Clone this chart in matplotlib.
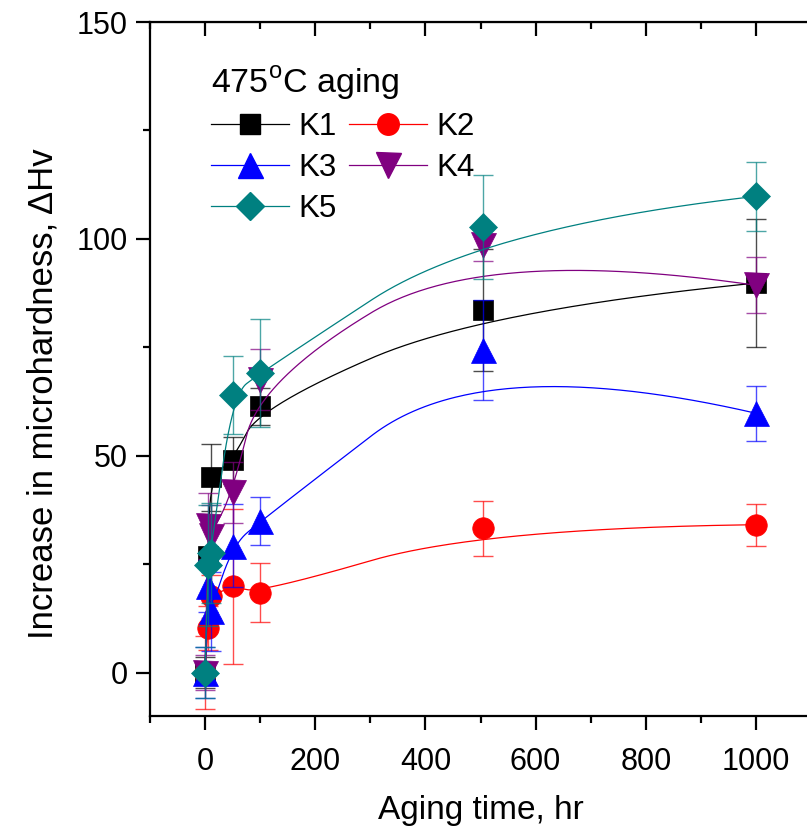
import numpy as np
import matplotlib
matplotlib.use("Agg")
import matplotlib.pyplot as plt
from matplotlib.lines import Line2D
from matplotlib.ticker import MultipleLocator

plt.rcParams['font.family'] = ['Liberation Sans', 'DejaVu Sans']
plt.rcParams['mathtext.fontset'] = 'custom'
plt.rcParams['mathtext.rm'] = 'Liberation Sans'

# aging time (hr) and hardness increase for each alloy
time = [0, 5, 10, 50, 100, 504, 1000]
k1 = [0, 27, 45, 49, 61.4, 83.6, 89.8]
k1_err = [3.5, 9, 7.7, 5.4, 4.3, 14, 14.7]
k2 = [0, 10.3, 17.6, 19.9, 18.4, 33.3, 34.1]
k2_err = [8.5, 5, 5, 17.8, 6.8, 6.3, 4.8]
k3 = [0, 19.9, 14.1, 29.3, 34.9, 74.3, 59.8]
k3_err = [5.8, 6, 9, 9.5, 5.5, 11.5, 6.3]
k4 = [0, 33.8, 31.6, 41.6, 67.5, 98.5, 89.3]
k4_err = [4, 7.5, 7, 7, 7, 3.5, 6.5]
k5 = [0, 24.7, 27.6, 64.1, 69.1, 102.7, 109.8]
k5_err = [5.8, 14, 11.5, 9, 12.5, 12, 8]

names = ['K1', 'K2', 'K3', 'K4', 'K5']
colors = ['black', '#ff0000', '#0000ff', '#800080', '#008080']
markers = ['s', 'o', '^', 'v', 'D']
msizes = [15, 15.5, 18, 18, 14]


def bspline(xs, ys, n=500, k=2):
    # clamped uniform B-spline with the data points as control points
    P = np.column_stack([xs, ys]).astype(float)
    m = len(P)
    knots = np.concatenate([np.zeros(k), np.linspace(0, 1, m - k + 1), np.ones(k)])
    t = np.linspace(0, 1 - 1e-9, n)
    B = np.zeros((n, len(knots) - 1))
    for i in range(len(knots) - 1):
        B[:, i] = (knots[i] <= t) & (t < knots[i + 1])
    for d in range(1, k + 1):
        Bn = np.zeros((n, len(knots) - 1 - d))
        for i in range(len(knots) - 1 - d):
            a = knots[i + d] - knots[i]
            b = knots[i + d + 1] - knots[i + 1]
            left = (t - knots[i]) / a * B[:, i] if a > 0 else 0
            right = (knots[i + d + 1] - t) / b * B[:, i + 1] if b > 0 else 0
            Bn[:, i] = left + right
        B = Bn
    C = B @ P
    return C[:, 0], C[:, 1]


fig = plt.figure(figsize=(8.07, 8.31), dpi=100)
ax = fig.add_axes([150 / 807, 115 / 831, 661 / 807, 694 / 831])

series = [(k1, k1_err), (k2, k2_err), (k3, k3_err), (k4, k4_err), (k5, k5_err)]
handles = []
for (vals, errs), name, c, mk, ms in zip(series, names, colors, markers, msizes):
    cx, cy = bspline(time, vals)
    ax.plot(cx, cy, color=c, lw=0.9)
    ax.errorbar(time, vals, yerr=errs, fmt='none', ecolor=c, elinewidth=1.0,
                capsize=7, capthick=1.0, alpha=0.7)
    ax.plot(time, vals, linestyle='none', marker=mk, ms=ms, color=c, mec=c, mew=0.5)
    handles.append(Line2D([], [], color=c, lw=0.9, marker=mk, ms=ms, mec=c, label=name))

ax.set_xlim(-100, 1100)
ax.set_ylim(-10, 150)
ax.xaxis.set_major_locator(MultipleLocator(200))
ax.xaxis.set_minor_locator(MultipleLocator(100))
ax.yaxis.set_major_locator(MultipleLocator(50))
ax.yaxis.set_minor_locator(MultipleLocator(25))
for s in ax.spines.values():
    s.set_linewidth(1.6)
ax.tick_params(which='major', direction='out', length=10, width=1.6, labelsize=22, pad=6)
ax.tick_params(which='minor', direction='out', length=5, width=1.6)
ax.tick_params(axis='x', which='major', pad=12)

top = ax.secondary_xaxis('top')
top.xaxis.set_major_locator(MultipleLocator(200))
top.xaxis.set_minor_locator(MultipleLocator(100))
top.tick_params(which='major', direction='in', length=10, width=1.6, labeltop=False)
top.tick_params(which='minor', direction='in', length=5, width=1.6)

ax.set_xlabel('Aging time, hr', fontsize=24, labelpad=13)
ax.set_ylabel('Increase in microhardness, ΔHv', fontsize=25, va='center')
ax.yaxis.set_label_coords(-0.162, 0.464)

order = [0, 2, 4, 1, 3]
leg = ax.legend([handles[i] for i in order], [names[i] for i in order], ncol=2,
                title='475$^{\\mathrm{o}}$C aging', title_fontsize=24.5, fontsize=22.5,
                frameon=False, alignment='left', loc='upper left',
                bbox_to_anchor=(211 / 807, 1 - 64 / 831), bbox_transform=fig.transFigure,
                borderpad=0, borderaxespad=0, handlelength=2.5, handletextpad=0.3,
                columnspacing=0.4, labelspacing=0.34)

fig.savefig('out.png', dpi=100)
